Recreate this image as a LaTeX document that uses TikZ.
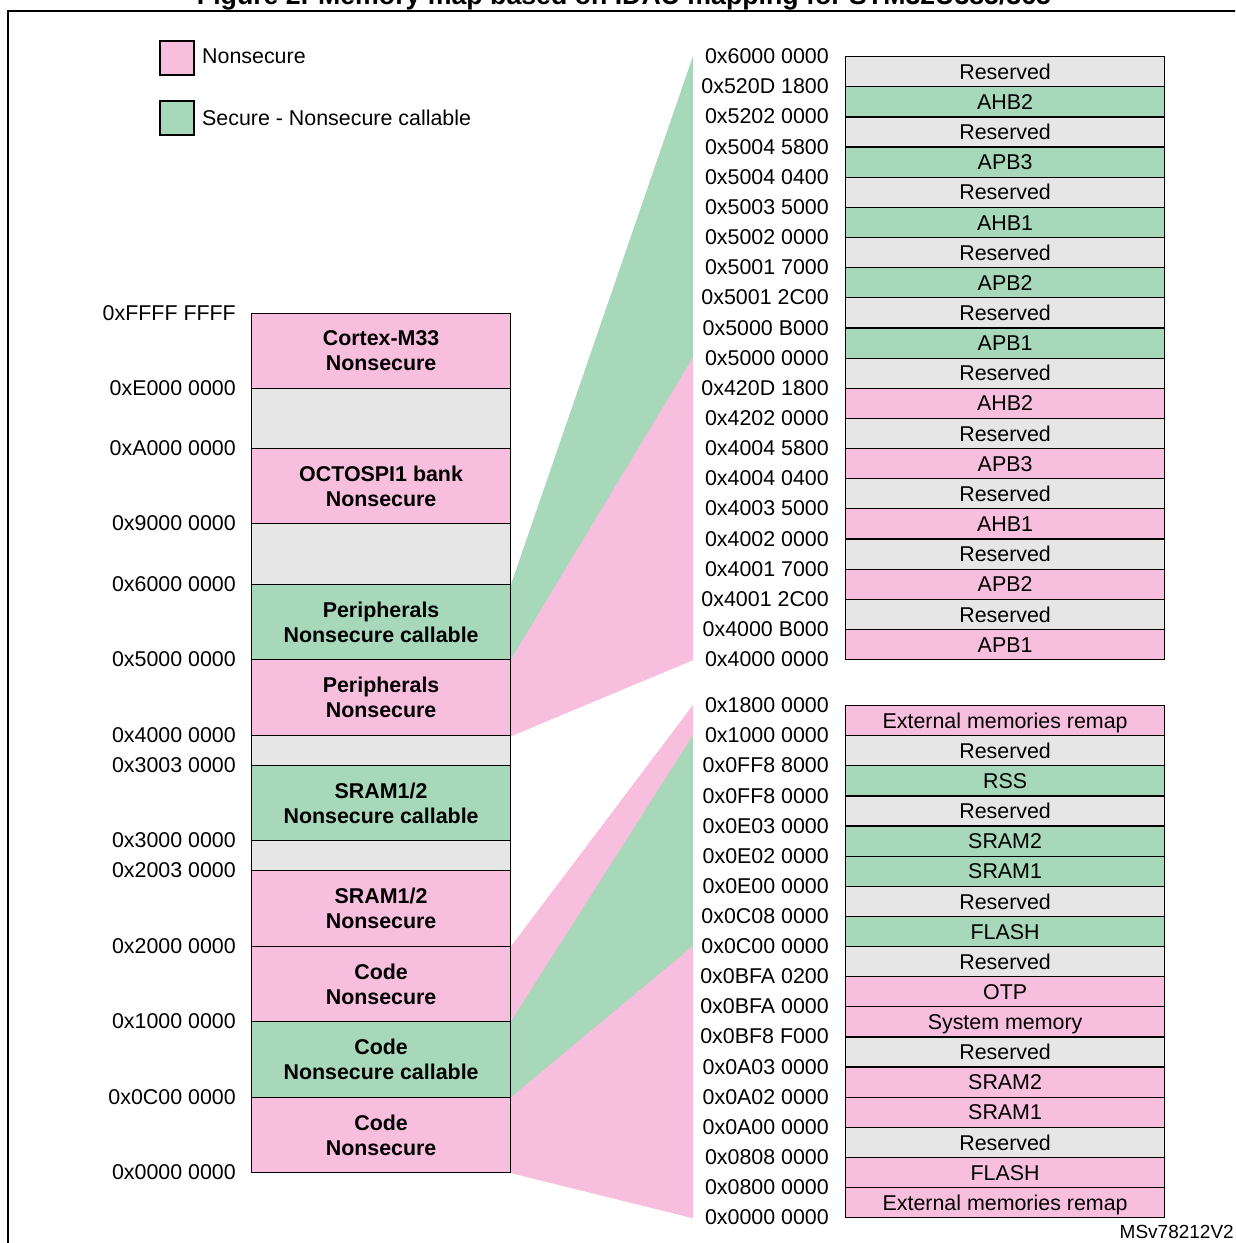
\documentclass[tikz,border=0pt]{standalone}
\usepackage{fontspec}
\usepackage{graphicx}
\setmainfont{Liberation Sans}
\usetikzlibrary{backgrounds}
\definecolor{nspink}{RGB}{247,190,222}
\definecolor{nscgreen}{RGB}{166,216,185}
\definecolor{resgray}{RGB}{230,230,230}
\begin{document}
\begin{tikzpicture}[x=1pt,y=-1pt,
  txt/.style={inner sep=0pt,text height=15.3pt,text depth=0pt,font=\fontsize{21.4}{25}\selectfont},
  lbox/.style={draw=black,line width=1.2pt,minimum width=259pt,inner sep=0pt,align=center,anchor=north west,font=\bfseries\fontsize{21.4}{25}\selectfont},
  rbox/.style={draw=black,line width=1.2pt,minimum width=319pt,minimum height=30.15pt,inner sep=0pt,anchor=north west,text height=15.3pt,text depth=0pt,font=\fontsize{21.4}{25}\selectfont},
  addr/.style={txt,anchor=east},
  legsq/.style={draw=black,line width=1.2pt,minimum size=34pt,inner sep=0pt},
]
\useasboundingbox (0,0) rectangle (1235,1243);
\clip (0,0) rectangle (1235,1243);

% title (cropped at top) and frame
\node[anchor=base,inner sep=0pt,font=\bfseries] (title) at (624,4) {\resizebox{854pt}{!}{Figure 2. Memory map based on IDAU mapping for STM32U385/365}};
\draw[line width=2.5pt] (8,1300) -- (8,11) -- (1300,11);

% legend
\node[legsq,fill=nspink] (lgp) at (177,58) {};
\node[txt,anchor=west] (lgpt) at (202,56) {Nonsecure};
\node[legsq,fill=nscgreen] (lgg) at (177,118) {};
\node[txt,anchor=west] (lggt) at (202,118) {Secure - Nonsecure callable};

% left column
\node[lbox,fill=nspink,minimum height=75pt] (L1) at (251,313) {Cortex-M33\\Nonsecure};
\node[lbox,fill=resgray,minimum height=60pt] (L2) at (251,388) {};
\node[lbox,fill=nspink,minimum height=75pt] (L3) at (251,448) {OCTOSPI1 bank\\Nonsecure};
\node[lbox,fill=resgray,minimum height=61pt] (L4) at (251,523) {};
\node[lbox,fill=nscgreen,minimum height=75pt] (L5) at (251,584) {Peripherals\\Nonsecure callable};
\node[lbox,fill=nspink,minimum height=76pt] (L6) at (251,659) {Peripherals\\Nonsecure};
\node[lbox,fill=resgray,minimum height=30pt] (L7) at (251,735) {};
\node[lbox,fill=nscgreen,minimum height=75pt] (L8) at (251,765) {SRAM1/2\\Nonsecure callable};
\node[lbox,fill=resgray,minimum height=30pt] (L9) at (251,840) {};
\node[lbox,fill=nspink,minimum height=76pt] (L10) at (251,870) {SRAM1/2\\Nonsecure};
\node[lbox,fill=nspink,minimum height=75pt] (L11) at (251,946) {Code\\Nonsecure};
\node[lbox,fill=nscgreen,minimum height=76pt] (L12) at (251,1021) {Code\\Nonsecure callable};
\node[lbox,fill=nspink,minimum height=75pt] (L13) at (251,1097) {Code\\Nonsecure};

\foreach \a/\y [count=\i] in {0xFFFF FFFF/313,0xE000 0000/388,0xA000 0000/448,0x9000 0000/523,0x6000 0000/584,0x5000 0000/659,0x4000 0000/735,0x3003 0000/765,0x3000 0000/840,0x2003 0000/870,0x2000 0000/946,0x1000 0000/1021,0x0C00 0000/1097,0x0000 0000/1172}
  \node[addr] (la\i) at (236,\y) {\a};

% right top column
\foreach \t/\c [count=\i from 0] in {Reserved/resgray,AHB2/nscgreen,Reserved/resgray,APB3/nscgreen,Reserved/resgray,AHB1/nscgreen,Reserved/resgray,APB2/nscgreen,Reserved/resgray,APB1/nscgreen,Reserved/resgray,AHB2/nspink,Reserved/resgray,APB3/nspink,Reserved/resgray,AHB1/nspink,Reserved/resgray,APB2/nspink,Reserved/resgray,APB1/nspink}
  \node[rbox,fill=\c] (t\i) at (845,{56+\i*30.15}) {\t};
\foreach \a [count=\i from 0] in {0x6000 0000,0x520D 1800,0x5202 0000,0x5004 5800,0x5004 0400,0x5003 5000,0x5002 0000,0x5001 7000,0x5001 2C00,0x5000 B000,0x5000 0000,0x420D 1800,0x4202 0000,0x4004 5800,0x4004 0400,0x4003 5000,0x4002 0000,0x4001 7000,0x4001 2C00,0x4000 B000,0x4000 0000}
  \node[addr] (ta\i) at (829,{56+\i*30.15}) {\a};

% right bottom column
\foreach \t/\c [count=\i from 0] in {External memories remap/nspink,Reserved/resgray,RSS/nscgreen,Reserved/resgray,SRAM2/nscgreen,SRAM1/nscgreen,Reserved/resgray,FLASH/nscgreen,Reserved/resgray,OTP/nspink,System memory/nspink,Reserved/resgray,SRAM2/nspink,SRAM1/nspink,Reserved/resgray,FLASH/nspink,External memories remap/nspink}
  \node[rbox,fill=\c,minimum height=30.12pt] (b\i) at (845,{705+\i*30.12}) {\t};
\foreach \a [count=\i from 0] in {0x1800 0000,0x1000 0000,0x0FF8 8000,0x0FF8 0000,0x0E03 0000,0x0E02 0000,0x0E00 0000,0x0C08 0000,0x0C00 0000,0x0BFA 0200,0x0BFA 0000,0x0BF8 F000,0x0A03 0000,0x0A02 0000,0x0A00 0000,0x0808 0000,0x0800 0000,0x0000 0000}
  \node[addr] (ba\i) at (829,{705+\i*30.12}) {\a};

\node[anchor=east,inner sep=0pt,font=\fontsize{19}{22}\selectfont] (msv) at (1234,1232) {MSv78212V2};

% fans
\coordinate (fx) at (693,0);
\begin{scope}[on background layer]
\fill[nscgreen] (L5.north east) -- (fx |- t0.north west) -- (fx |- t9.south west) -- (L5.south east) -- cycle;
\fill[nspink] (L6.north east) -- (fx |- t10.north west) -- (fx |- t19.south west) -- (L6.south east) -- cycle;
\fill[nspink] (L11.north east) -- (fx |- b0.north west) -- (fx |- b0.south west) -- (L11.south east) -- cycle;
\fill[nscgreen] (L12.north east) -- (fx |- b1.north west) -- (fx |- b7.south west) -- (L12.south east) -- cycle;
\fill[nspink] (L13.north east) -- (fx |- b8.north west) -- (fx |- b16.south west) -- (L13.south east) -- cycle;
\end{scope}
\end{tikzpicture}
\end{document}
